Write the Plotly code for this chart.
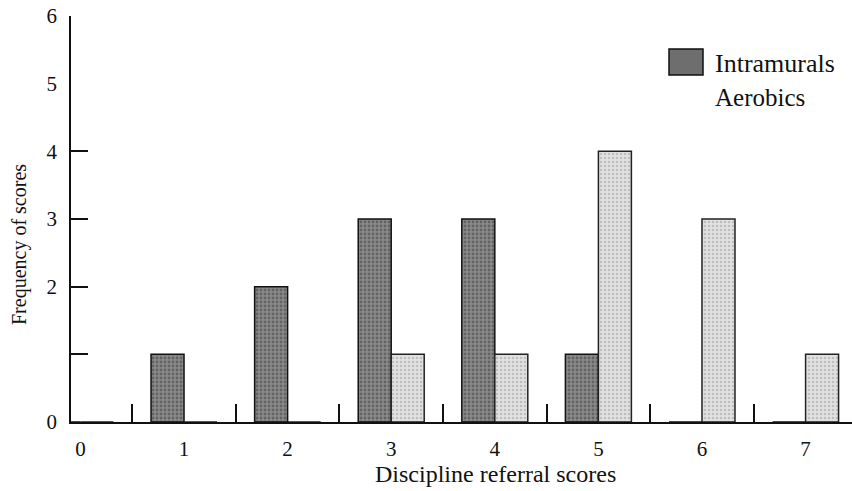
import plotly.graph_objects as go

scores = [0, 1, 2, 3, 4, 5, 6, 7]
tick_labels = ["0", "1", "2", "3", "4", "5", "6", "7"]
intramurals = [0, 1, 2, 3, 3, 1, 0, 0]
aerobics = [0, 0, 0, 1, 1, 4, 3, 1]
y_tick_values = [0, 2, 3, 4, 5, 6]
y_tick_marks = [1, 2, 3, 4]
x_boundaries = [0.5, 1.5, 2.5, 3.5, 4.5, 5.5, 6.5]

FONT = "Liberation Serif"
DARK = "#6e6e6e"
LIGHT = "#cdcdcd"

fig = go.Figure()
fig.add_trace(go.Bar(
    x=scores, y=intramurals, name="Intramurals",
    marker=dict(color=DARK, line=dict(color="#111111", width=1.5),
                pattern=dict(shape=".", fgcolor="#3a3a3a", bgcolor="#8a8a8a", size=4, solidity=0.4)),
    showlegend=False,
))
fig.add_trace(go.Bar(
    x=scores, y=aerobics, name="Aerobics",
    marker=dict(color=LIGHT, line=dict(color="#222222", width=1.5),
                pattern=dict(shape=".", fgcolor="#9a9a9a", bgcolor="#e2e2e2", size=4, solidity=0.35)),
    showlegend=False,
))
# invisible helper trace for overlay tick axes
fig.add_trace(go.Scatter(x=[0], y=[0], xaxis="x2", yaxis="y2", mode="markers",
                         marker=dict(opacity=0), showlegend=False, hoverinfo="skip"))

xr = [-0.091, 7.448]
fig.update_layout(
    width=852, height=491,
    margin=dict(l=71, r=0, t=16, b=69),
    paper_bgcolor="white", plot_bgcolor="white",
    barmode="group", bargap=0.363, bargroupgap=0,
    font=dict(family=FONT, color="#111111", size=20),
    xaxis=dict(range=xr, tickmode="array", tickvals=scores, ticktext=tick_labels,
               ticks="", showgrid=False, zeroline=False, automargin=False,
               showline=True, linecolor="#111111", linewidth=1.5,
               tickfont=dict(family=FONT, size=21), ticklabelstandoff=7),
    xaxis2=dict(range=xr, overlaying="x", anchor="y", side="bottom", automargin=False,
                tickmode="array", tickvals=x_boundaries, ticks="inside", ticklen=18,
                tickwidth=1.5, tickcolor="#111111", showticklabels=False,
                showgrid=False, zeroline=False, showline=False),
    yaxis=dict(range=[0, 6], tickmode="array", tickvals=y_tick_values,
               ticks="", showgrid=False, zeroline=False, automargin=False,
               showline=True, linecolor="#111111", linewidth=1.5,
               tickfont=dict(family=FONT, size=21), ticklabelstandoff=8),
    yaxis2=dict(range=[0, 6], overlaying="y", anchor="x", side="left", automargin=False,
                tickmode="array", tickvals=y_tick_marks, ticks="inside", ticklen=17,
                tickwidth=1.5, tickcolor="#111111", showticklabels=False,
                showgrid=False, zeroline=False, showline=False),
)

# axis titles placed as in the reference (off-centre)
fig.add_annotation(xref="paper", yref="paper", x=(495 - 71) / 781, y=(422 - 474) / 406,
                   text="Discipline referral scores", showarrow=False,
                   xanchor="center", yanchor="middle",
                   font=dict(family=FONT, size=24, color="#111111"))
fig.add_annotation(xref="paper", yref="paper", x=(19 - 71) / 781, y=(422 - 245) / 406,
                   text="Frequency of scores", showarrow=False, textangle=-90,
                   xanchor="center", yanchor="middle",
                   font=dict(family=FONT, size=20, color="#111111"))

# legend (manual, as in the reference)
fig.add_shape(type="rect", xref="paper", yref="paper",
              x0=(669 - 71) / 781, x1=(703 - 71) / 781,
              y0=(422 - 75) / 406, y1=(422 - 49) / 406,
              fillcolor=DARK, line=dict(color="#111111", width=1.5))
fig.add_annotation(xref="paper", yref="paper", x=(713 - 71) / 781, y=(422 - 63) / 406,
                   text="Intramurals", showarrow=False, xanchor="left", yanchor="middle",
                   font=dict(family=FONT, size=26, color="#111111"))
fig.add_annotation(xref="paper", yref="paper", x=(713 - 71) / 781, y=(422 - 98) / 406,
                   text="Aerobics", showarrow=False, xanchor="left", yanchor="middle",
                   font=dict(family=FONT, size=25, color="#111111"))

fig.write_html("out.html", config={"displayModeBar": False},
               post_script="document.body.style.margin='0px';document.body.style.overflow='hidden';")
